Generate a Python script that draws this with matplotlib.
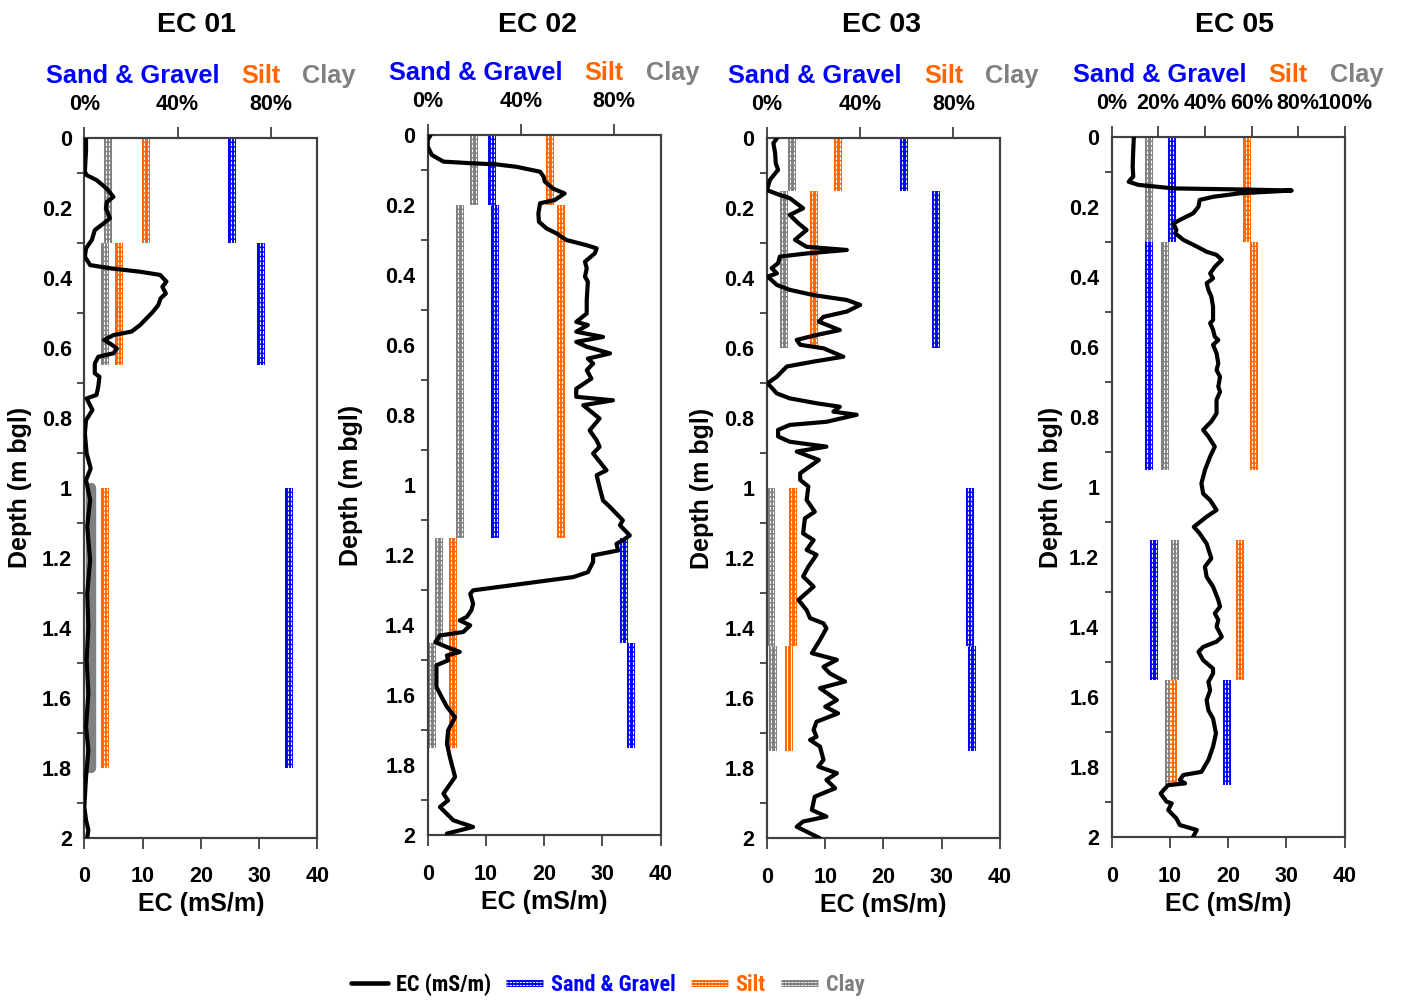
import numpy as np
import matplotlib
matplotlib.use("Agg")
import matplotlib.pyplot as plt
from matplotlib import font_manager
from matplotlib.lines import Line2D
from matplotlib.patches import Patch
from matplotlib.legend_handler import HandlerBase
from matplotlib.ticker import FixedLocator
from matplotlib.transforms import offset_copy

plt.rcParams["font.family"] = ["Liberation Sans", "DejaVu Sans"]
plt.rcParams["font.weight"] = "bold"
plt.rcParams["axes.labelweight"] = "bold"

# ---- EC logs (depth in m bgl, EC in mS/m) ----
ec01_depth = [0, 0.035, 0.097, 0.107, 0.121, 0.145, 0.169, 0.183, 0.202, 0.23,
              0.245, 0.264, 0.292, 0.316, 0.34, 0.364, 0.373, 0.383, 0.392, 0.411,
              0.426, 0.445, 0.459, 0.478, 0.497, 0.516, 0.535, 0.554, 0.564, 0.578,
              0.588, 0.602, 0.616, 0.626, 0.645, 0.673, 0.683, 0.711, 0.735, 0.745,
              0.778, 0.807, 0.845, 0.902, 0.945, 0.978, 1.035, 1.111, 1.207, 1.302,
              1.397, 1.492, 1.588, 1.683, 1.75, 1.826, 1.912, 1.95, 1.978, 2.0]
ec01_ec = [0.3, 0.3, 0.1, 0.4, 2.1, 3.8, 5.0, 3.9, 3.7, 4.4,
           3.3, 1.8, 1.3, 0.3, 0.1, 1.0, 4.4, 9.6, 13.0, 14.1,
           13.4, 14.0, 13.1, 12.7, 11.8, 10.7, 9.6, 8.1, 5.0, 3.4,
           4.4, 5.6, 5.0, 2.4, 1.8, 1.8, 2.6, 2.4, 2.1, 0.4,
           1.4, 0.3, 0.1, 0.4, 1.1, 0.3, 1.0, 0.5, 1.0, 0.5,
           0.7, 0.4, 0.7, 0.3, 0.7, 0.3, 0.0, 0.3, 0.7, 0.5]

ec02_depth = [0, 0.014, 0.033, 0.057, 0.076, 0.081, 0.084, 0.091, 0.105, 0.119,
              0.133, 0.153, 0.167, 0.186, 0.195, 0.224, 0.248, 0.267, 0.281, 0.3,
              0.315, 0.324, 0.338, 0.362, 0.381, 0.405, 0.419, 0.472, 0.51, 0.534,
              0.543, 0.562, 0.577, 0.591, 0.605, 0.624, 0.639, 0.653, 0.672, 0.696,
              0.725, 0.748, 0.758, 0.772, 0.81, 0.844, 0.872, 0.891, 0.91, 0.958,
              0.972, 1.006, 1.044, 1.063, 1.082, 1.101, 1.115, 1.144, 1.158, 1.168,
              1.187, 1.201, 1.22, 1.249, 1.263, 1.282, 1.301, 1.311, 1.339, 1.358,
              1.377, 1.387, 1.401, 1.42, 1.43, 1.449, 1.463, 1.477, 1.487, 1.501,
              1.515, 1.577, 1.606, 1.634, 1.663, 1.701, 1.739, 1.777, 1.834, 1.882,
              1.901, 1.92, 1.958, 1.977, 1.996]
ec02_ec = [0.5, 0.0, 0.0, 0.7, 2.7, 7.8, 11.8, 15.3, 19.3, 19.9,
           20.1, 21.5, 23.5, 21.8, 19.3, 19.0, 19.1, 20.4, 22.1, 23.8,
           27.3, 29.0, 28.7, 27.0, 27.3, 27.0, 27.5, 27.3, 27.3, 25.5,
           27.5, 25.5, 30.1, 25.5, 27.3, 31.3, 27.5, 28.4, 27.3, 28.1,
           25.5, 25.5, 31.8, 26.7, 29.5, 27.8, 29.0, 29.5, 28.4, 30.7,
           29.0, 29.5, 30.1, 31.3, 32.4, 33.5, 33.0, 34.7, 33.5, 32.4,
           32.7, 28.4, 28.4, 27.5, 25.0, 16.4, 7.8, 7.3, 7.8, 7.5,
           6.7, 5.5, 7.3, 6.1, 2.1, 1.3, 3.3, 5.5, 3.3, 3.5,
           1.5, 1.5, 2.4, 3.3, 4.7, 3.5, 3.3, 3.8, 4.7, 2.7,
           3.5, 2.1, 4.4, 7.8, 3.3]

ec03_depth = [0, 0.014, 0.043, 0.071, 0.09, 0.119, 0.148, 0.162, 0.171, 0.186,
              0.2, 0.219, 0.243, 0.262, 0.29, 0.31, 0.319, 0.329, 0.338, 0.357,
              0.371, 0.386, 0.395, 0.419, 0.433, 0.448, 0.462, 0.476, 0.495, 0.51,
              0.524, 0.548, 0.562, 0.576, 0.59, 0.6, 0.624, 0.638, 0.652, 0.681,
              0.7, 0.729, 0.743, 0.757, 0.767, 0.781, 0.79, 0.81, 0.819, 0.833,
              0.852, 0.867, 0.881, 0.895, 0.919, 0.957, 0.976, 0.995, 1.033, 1.067,
              1.086, 1.129, 1.148, 1.176, 1.19, 1.224, 1.252, 1.281, 1.319, 1.348,
              1.371, 1.386, 1.4, 1.433, 1.471, 1.49, 1.51, 1.529, 1.552, 1.571,
              1.605, 1.624, 1.643, 1.667, 1.69, 1.71, 1.719, 1.738, 1.776, 1.795,
              1.814, 1.833, 1.857, 1.881, 1.919, 1.938, 1.952, 1.967, 1.981, 2.0]
ec03_ec = [1.7, 1.1, 1.4, 1.5, 1.9, 0.5, 0.0, 2.2, 3.9, 5.1,
           6.2, 3.9, 5.4, 6.8, 4.8, 6.8, 13.7, 6.8, 2.2, 1.9,
           0.8, 1.7, 0.1, 1.7, 3.9, 8.0, 13.7, 16.0, 13.7, 9.7,
           8.9, 12.5, 8.5, 5.1, 5.7, 9.7, 13.1, 8.0, 3.4, 1.7,
           0.1, 1.7, 3.9, 8.5, 12.5, 11.4, 15.4, 10.2, 3.9, 1.9,
           1.9, 3.9, 10.2, 5.1, 8.9, 5.7, 5.7, 7.1, 6.8, 8.2,
           6.5, 6.2, 8.0, 6.8, 8.5, 7.1, 6.2, 8.0, 5.4, 6.8,
           7.4, 9.7, 10.2, 9.1, 7.7, 12.0, 9.7, 10.8, 13.4, 9.1,
           12.0, 10.0, 12.2, 8.5, 8.0, 8.5, 7.4, 9.1, 9.7, 8.8,
           12.0, 10.2, 11.7, 8.2, 7.7, 10.2, 6.2, 5.1, 6.8, 9.1]

ec05_depth = [0, 0.036, 0.084, 0.112, 0.127, 0.136, 0.146, 0.149, 0.152, 0.16,
              0.17, 0.179, 0.198, 0.217, 0.236, 0.246, 0.265, 0.274, 0.293, 0.312,
              0.327, 0.336, 0.35, 0.37, 0.389, 0.403, 0.417, 0.436, 0.455, 0.484,
              0.522, 0.531, 0.55, 0.57, 0.579, 0.593, 0.617, 0.646, 0.665, 0.684,
              0.712, 0.727, 0.75, 0.789, 0.812, 0.836, 0.855, 0.884, 0.912, 0.951,
              0.989, 1.018, 1.037, 1.065, 1.084, 1.113, 1.132, 1.161, 1.203, 1.227,
              1.256, 1.284, 1.322, 1.341, 1.36, 1.379, 1.398, 1.427, 1.441, 1.456,
              1.47, 1.494, 1.518, 1.532, 1.556, 1.58, 1.608, 1.637, 1.661, 1.703,
              1.741, 1.779, 1.813, 1.822, 1.836, 1.846, 1.851, 1.865, 1.875, 1.898,
              1.903, 1.922, 1.946, 1.965, 1.979, 1.998]
ec05_ec = [3.8, 3.7, 3.6, 3.7, 2.9, 4.6, 10.6, 22.0, 30.9, 22.0,
           17.4, 15.1, 14.9, 14.0, 11.7, 10.6, 11.1, 10.9, 12.3, 14.6,
           16.3, 18.0, 18.9, 17.7, 16.9, 17.4, 16.3, 16.6, 17.1, 17.4,
           17.4, 16.9, 17.4, 17.7, 18.3, 17.4, 18.0, 18.3, 18.0, 18.6,
           18.3, 18.6, 18.0, 18.0, 17.1, 15.7, 16.6, 17.7, 16.9, 16.0,
           15.4, 15.7, 16.9, 18.0, 16.3, 14.1, 15.1, 16.3, 17.1, 16.0,
           16.3, 17.4, 18.3, 18.6, 17.7, 18.3, 18.0, 18.9, 18.0, 15.7,
           14.9, 15.7, 17.4, 17.4, 16.6, 16.9, 16.3, 16.6, 17.4, 17.9,
           17.4, 16.6, 15.4, 12.3, 11.7, 12.6, 9.7, 8.9, 8.4, 9.4,
           10.3, 9.7, 11.1, 11.7, 14.6, 14.0]

# ---- grain size fractions per sampled interval (%) ----
ec01_top = [0.0, 0.3, 1.0]
ec01_base = [0.3, 0.65, 1.8]
ec01_sand = [63.5, 76.0, 88.0]
ec01_silt = [26.5, 15.0, 9.0]
ec01_clay = [10.0, 9.0, 3.0]

ec02_top = [0.0, 0.2, 1.15, 1.45]
ec02_base = [0.2, 1.15, 1.45, 1.75]
ec02_sand = [27.7, 29.0, 84.3, 87.3]
ec02_silt = [52.5, 57.1, 10.9, 10.9]
ec02_clay = [19.8, 13.9, 4.8, 1.8]

ec03_top = [0.0, 0.15, 1.0, 1.45]
ec03_base = [0.15, 0.6, 1.45, 1.75]
ec03_sand = [58.8, 72.5, 87.0, 88.0]
ec03_silt = [30.5, 20.2, 11.2, 9.4]
ec03_clay = [10.7, 7.3, 1.8, 2.6]

ec05_top = [0.0, 0.3, 1.15, 1.55]
ec05_base = [0.3, 0.95, 1.55, 1.85]
ec05_sand = [25.8, 16.0, 18.1, 49.3]
ec05_silt = [58.2, 61.0, 54.9, 26.2]
ec05_clay = [16.0, 23.0, 27.0, 24.5]

site_names = ["EC 01", "EC 02", "EC 03", "EC 05"]
pct_ticks = [[0, 40, 80], [0, 40, 80], [0, 40, 80], [0, 20, 40, 60, 80, 100]]
ec_ticks = [0, 10, 20, 30, 40]
depth_ticks = [0, 0.2, 0.4, 0.6, 0.8, 1, 1.2, 1.4, 1.6, 1.8, 2]

sites = [
    (ec01_depth, ec01_ec, ec01_top, ec01_base, ec01_sand, ec01_silt, ec01_clay),
    (ec02_depth, ec02_ec, ec02_top, ec02_base, ec02_sand, ec02_silt, ec02_clay),
    (ec03_depth, ec03_ec, ec03_top, ec03_base, ec03_sand, ec03_silt, ec03_clay),
    (ec05_depth, ec05_ec, ec05_top, ec05_base, ec05_sand, ec05_silt, ec05_clay),
]

SAND_C, SILT_C, CLAY_C = "#0000ff", "#ff6600", "#808080"
AXIS_C = "#404040"

# layout in pixels
W, H = 1402, 1002
AX_W, AX_H = 233, 700
ax_left = [84.3, 427.7, 767, 1111.7]
ax_top = [137.7, 135, 138.3, 137.3]
title_x = [196.3, 537.8, 881.5, 1234.8]
ylabel_off = [52.6, 64.4, 53, 48.4]

# intervals drawn differently: (site, interval, fraction)
plain_fill = {(0, 2, "clay")}
solid_stripe = {(2, 3, "silt")}


def pick_family(names):
    for name in names:
        try:
            font_manager.findfont(font_manager.FontProperties(family=name, weight="bold"),
                                  fallback_to_default=False)
            return name
        except ValueError:
            continue
    return "Liberation Sans"


legend_family = pick_family(["Liberation Sans Narrow", "Noto Sans Condensed",
                             "Roboto Condensed", "Noto Sans ExtraCondensed"])
legend_size = 16 if legend_family != "Liberation Sans" else 14

fig = plt.figure(figsize=(W / 100, H / 100), dpi=100)


def stripe_bar(ax, x, d0, d1, color, plain=False, solid=False):
    if plain:
        ax.plot([x, x], [d0, d1], color=color, lw=7.5, solid_capstyle="round", zorder=2)
        return
    ax.plot([x, x], [d0, d1], color=color, lw=5.8, solid_capstyle="butt", zorder=2)
    for dx in (-1.2, 1.2):
        tr = offset_copy(ax.transData, fig=fig, x=dx, y=0, units="points")
        if solid:
            ax.plot([x, x], [d0, d1], color="white", lw=0.8, transform=tr, zorder=3)
        else:
            ax.plot([x, x], [d0, d1], color="white", lw=0.8, dashes=(2.75, 1.4),
                    transform=tr, zorder=3)


axes = []
for i, (depth, ec, tops, bases, sand, silt, clay) in enumerate(sites):
    left, top = ax_left[i], ax_top[i]
    ax = fig.add_axes([left / W, 1 - (top + AX_H) / H, AX_W / W, AX_H / H])
    axe = ax.twiny()

    # grain size fractions on the top (percent) axis
    ax.set_xlim(0, 100)
    ax.set_ylim(2, 0)
    ax.xaxis.set_ticks_position("top")
    ax.set_xticks(pct_ticks[i])
    ax.set_xticklabels([f"{t}%" for t in pct_ticks[i]])
    ax.tick_params(axis="x", direction="out", length=8, width=1.3, color=AXIS_C,
                   labelsize=15.5, pad=8.5)
    ax.set_yticks(depth_ticks)
    ax.set_yticklabels([f"{v:g}" for v in depth_ticks])
    ax.yaxis.set_minor_locator(FixedLocator(np.arange(0.1, 2.0, 0.2)))
    ax.tick_params(axis="y", which="major", length=0, pad=9, labelsize=15.5)
    ax.tick_params(axis="y", which="minor", direction="out", length=5, width=1.3,
                   color=AXIS_C)
    ax.set_ylabel("Depth (m bgl)", fontsize=18, fontweight="bold")
    ax.yaxis.set_label_coords(-ylabel_off[i] / AX_W, 0.5)

    for k in range(len(tops)):
        for name, vals, col in (("clay", clay, CLAY_C), ("silt", silt, SILT_C),
                                ("sand", sand, SAND_C)):
            stripe_bar(ax, vals[k], tops[k], bases[k], col,
                       plain=(i, k, name) in plain_fill,
                       solid=(i, k, name) in solid_stripe)

    # EC log on the bottom axis
    axe.set_xlim(0, 40)
    axe.xaxis.set_ticks_position("bottom")
    axe.xaxis.set_label_position("bottom")
    axe.set_xticks(ec_ticks)
    axe.tick_params(axis="x", direction="out", length=7.7, width=1.3, color=AXIS_C,
                    labelsize=15.5, pad=13)
    axe.plot(ec, depth, color="black", lw=3, solid_joinstyle="round",
             solid_capstyle="round", zorder=4)
    axe.set_xlabel("EC (mS/m)", fontsize=18, fontweight="bold")
    axe.xaxis.set_label_coords(0.5, -0.078)

    for a in (ax, axe):
        for sp in a.spines.values():
            sp.set_color(AXIS_C)
            sp.set_linewidth(1.5)

    fig.text(title_x[i] / W, 1 - 32.3 / H, site_names[i], ha="center",
             va="baseline", fontsize=20.5, fontweight="bold")
    axes.append(ax)

# coloured fraction header above each percent axis
header = [("Sand & Gravel", SAND_C), ("Silt", SILT_C), ("Clay", CLAY_C)]
renderer = fig.canvas.get_renderer()
for i, ax in enumerate(axes):
    parts = [fig.text(0, 0, s, color=c, fontsize=18.3, fontweight="bold",
                      va="baseline", ha="left")
             for s, c in header]
    widths = [t.get_window_extent(renderer).width for t in parts]
    gap = 22
    x = ax_left[i] + AX_W / 2 - (sum(widths) + gap * (len(parts) - 1)) / 2
    y = 1 - (ax_top[i] - 55) / H
    for t, w in zip(parts, widths):
        t.set_position((x / W, y))
        x += w + gap


class StripeHandler(HandlerBase):
    def create_artists(self, legend, orig_handle, xdescent, ydescent, width,
                       height, fontsize, trans):
        c = orig_handle.get_facecolor()
        y = height / 2 - ydescent
        x0, x1 = -xdescent, width - xdescent
        arts = [Line2D([x0, x1], [y, y], color=c, lw=5, solid_capstyle="butt")]
        for dy in (-1.1, 1.1):
            arts.append(Line2D([x0, x1], [y + dy, y + dy], color="white", lw=0.7,
                               dashes=(2.2, 1.2)))
        for a in arts:
            a.set_transform(trans)
        return arts


handles = [Line2D([], [], color="black", lw=3.3, solid_capstyle="round"),
           Patch(color=SAND_C), Patch(color=SILT_C), Patch(color=CLAY_C)]
labels = ["EC (mS/m)", "Sand & Gravel", "Silt", "Clay"]
leg = fig.legend(handles, labels, loc="center", bbox_to_anchor=(607.5 / W, 1 - 985 / H),
                 ncol=4, frameon=False, handlelength=26.6 / legend_size,
                 handletextpad=5.8 / legend_size, columnspacing=10.8 / legend_size,
                 handler_map={Patch: StripeHandler()},
                 prop={"family": legend_family, "weight": "bold", "size": legend_size})
for txt, col in zip(leg.get_texts(), ["black", SAND_C, SILT_C, CLAY_C]):
    txt.set_color(col)

fig.savefig("out.png", dpi=100)
